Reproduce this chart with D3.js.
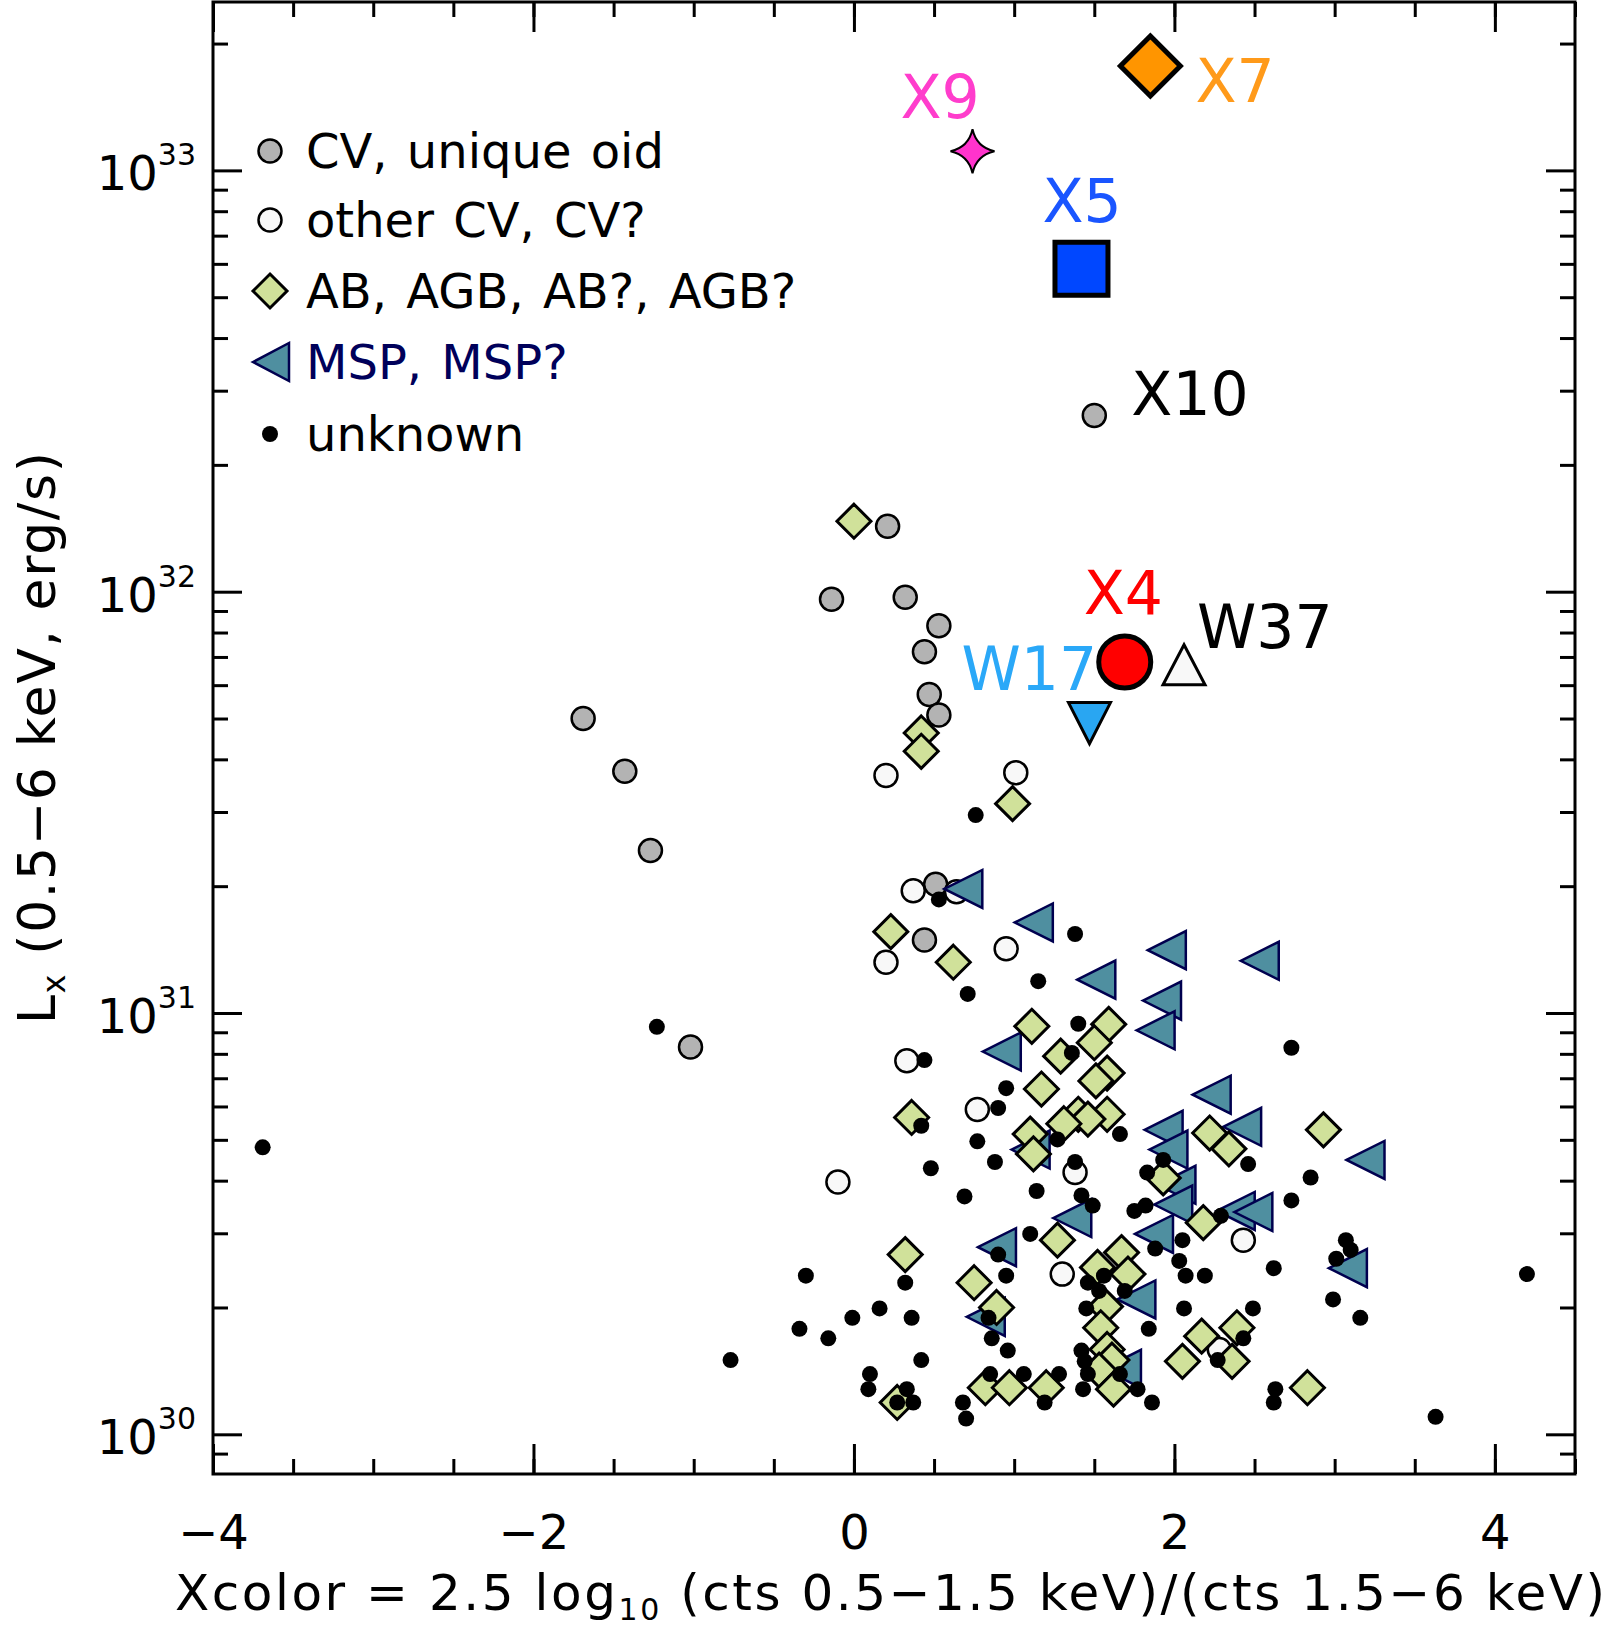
<!DOCTYPE html>
<html>
<head>
<meta http-equiv="Content-Type" content="text/html; charset=utf-8">
<script src="https://cdnjs.cloudflare.com/ajax/libs/d3/7.8.5/d3.min.js"></script>
<style>
  body { margin: 0; background: #fff; }
  svg text { font-family: "DejaVu Sans", sans-serif; }
</style>
</head>
<body>
<div id="chart"></div>
<script>

// ------------------------------------------- DATA  [Xcolor, Lx (erg/s)]

var cvUnique = [
  [0.21, 1.43e32], [-0.14, 9.6e31], [0.32, 9.7e31], [0.53, 8.3e31], [0.44, 7.2e31],
  [0.47, 5.7e31], [0.53, 5.1e31], [-1.69, 5.0e31], [-1.43, 3.75e31], [-1.27, 2.43e31],
  [0.51, 2.02e31], [0.44, 1.49e31], [-1.02, 8.3e30]
];

var cvOther = [
  [0.20, 3.66e31], [1.01, 3.72e31], [0.37, 1.95e31], [0.64, 1.94e31], [0.95, 1.42e31],
  [0.20, 1.32e31], [0.33, 7.7e30], [0.77, 5.9e30], [-0.10, 3.97e30], [1.38, 4.18e30],
  [2.43, 2.89e30], [1.30, 2.40e30], [2.28, 1.59e30]
];

var abAgb = [
  [0.00, 1.47e32], [0.42, 4.62e31], [0.42, 4.18e31], [0.99, 3.14e31], [0.23, 1.56e31],
  [0.62, 1.32e31], [1.11, 9.3e30], [1.59, 9.4e30], [1.50, 8.5e30], [1.29, 7.9e30],
  [1.58, 7.2e30], [1.51, 6.9e30], [1.17, 6.6e30], [0.36, 5.65e30], [1.40, 5.75e30],
  [1.58, 5.75e30], [1.46, 5.6e30], [1.31, 5.46e30], [1.10, 5.16e30], [1.12, 4.63e30],
  [2.22, 5.19e30], [2.34, 4.76e30], [2.93, 5.28e30], [1.93, 4.06e30], [1.27, 2.89e30],
  [2.18, 3.18e30], [0.32, 2.67e30], [1.52, 2.49e30], [1.67, 2.70e30], [1.71, 2.40e30],
  [0.75, 2.29e30], [0.89, 2.00e30], [1.57, 2.01e30], [1.54, 1.79e30], [2.17, 1.71e30],
  [2.39, 1.79e30], [1.58, 1.59e30], [1.61, 1.50e30], [2.05, 1.49e30], [2.36, 1.49e30],
  [1.53, 1.42e30], [1.62, 1.28e30], [0.82, 1.29e30], [0.97, 1.29e30], [1.20, 1.29e30],
  [0.27, 1.19e30], [2.83, 1.29e30]
];

var msp = [
  [0.72, 1.97e31], [1.16, 1.64e31], [1.99, 1.41e31], [2.57, 1.33e31], [1.55, 1.20e31],
  [1.96, 1.07e31], [1.92, 9.1e30], [0.96, 8.1e30], [2.27, 6.4e30], [1.97, 5.28e30],
  [2.46, 5.37e30], [2.00, 4.74e30], [1.14, 4.74e30], [3.23, 4.48e30], [2.05, 3.91e30],
  [2.03, 3.51e30], [2.42, 3.39e30], [2.53, 3.37e30], [1.40, 3.26e30], [1.91, 2.99e30],
  [0.93, 2.78e30], [3.12, 2.48e30], [1.80, 2.09e30], [0.86, 1.90e30], [1.71, 1.43e30]
];

var unknown = [
  [-3.69, 4.80e30], [-1.23, 9.27e30], [0.76, 2.95e31], [-0.77, 1.50e30], [2.73, 8.27e30],
  [3.63, 1.10e30], [4.20, 2.40e30], [2.85, 4.07e30], [2.73, 3.59e30], [3.07, 2.89e30],
  [3.10, 2.74e30], [3.01, 2.61e30], [2.99, 2.09e30], [3.16, 1.89e30], [2.62, 2.48e30],
  [2.63, 1.28e30], [2.62, 1.19e30], [0.53, 1.86e31], [1.38, 1.54e31], [1.15, 1.19e31],
  [0.71, 1.11e31], [1.40, 9.43e30], [1.36, 8.04e30], [0.44, 7.73e30], [0.95, 6.63e30],
  [0.90, 5.95e30], [0.42, 5.40e30], [0.77, 4.96e30], [1.66, 5.16e30], [1.27, 5.01e30],
  [2.46, 4.38e30], [0.88, 4.43e30], [0.48, 4.28e30], [1.38, 4.43e30], [1.93, 4.48e30],
  [1.83, 4.18e30], [0.69, 3.67e30], [1.14, 3.78e30], [1.42, 3.69e30], [1.49, 3.49e30],
  [1.75, 3.39e30], [1.82, 3.49e30], [2.29, 3.30e30], [1.10, 2.99e30], [2.05, 2.89e30],
  [1.88, 2.76e30], [0.90, 2.67e30], [2.03, 2.58e30], [-0.30, 2.38e30], [0.32, 2.29e30],
  [0.95, 2.38e30], [1.56, 2.38e30], [2.07, 2.38e30], [2.19, 2.38e30], [1.46, 2.29e30],
  [1.53, 2.19e30], [1.69, 2.19e30], [0.16, 1.99e30], [-0.01, 1.89e30], [0.36, 1.89e30],
  [-0.34, 1.78e30], [-0.16, 1.69e30], [0.84, 1.89e30], [1.45, 1.99e30], [2.06, 1.99e30],
  [2.49, 1.99e30], [1.84, 1.78e30], [0.86, 1.69e30], [0.96, 1.58e30], [1.42, 1.58e30],
  [1.44, 1.49e30], [2.43, 1.69e30], [2.27, 1.50e30], [0.42, 1.50e30], [1.46, 1.39e30],
  [1.66, 1.39e30], [0.85, 1.39e30], [1.06, 1.39e30], [1.28, 1.39e30], [0.10, 1.39e30],
  [0.09, 1.28e30], [0.33, 1.28e30], [1.43, 1.28e30], [1.77, 1.28e30], [0.27, 1.19e30],
  [0.37, 1.19e30], [0.68, 1.19e30], [1.19, 1.19e30], [1.86, 1.19e30], [0.70, 1.09e30]
];

// named sources
var namedNames = ["X7", "X9", "X5", "X10", "X4", "W37", "W17"];
var namedX     = [1.85, 0.74, 1.42, 1.50, 1.69, 2.06, 1.47];
var namedL     = [1.77e33, 1.11e33, 5.84e32, 2.62e32, 6.81e31, 6.71e31, 4.89e31];

// legend and axis texts
var legendLabels = ["CV, unique oid", "other CV, CV?", "AB, AGB, AB?, AGB?", "MSP, MSP?", "unknown"];
var xTickValues = [-4, -2, 0, 2, 4];
var yTickExps = [30, 31, 32, 33];

//-------------------------------------------- SVG definition

var width = 1611;
var height = 1630;
var plot = {left: 213, right: 1575, top: 2, bottom: 1474};

var svg = d3.select("#chart")
  .append("svg")
  .attr("width", width)
  .attr("height", height)
  .style("display", "block");

svg.append("rect").attr("width", width).attr("height", height).attr("fill", "#fff");

var x = d3.scaleLinear().domain([-4, 4.5]).range([plot.left, plot.right]);
var y = d3.scaleLog().domain([8.05e29, 2.51e33]).range([plot.bottom, plot.top]);

// ------------------------------------------- AXES (ticks inward on all sides)

var xMinor = d3.range(-4, 4.51, 0.5);
var yMajor = yTickExps.map(function(e){ return Math.pow(10, e); });
var yMinor = [];
for (var e = 29; e <= 33; e++) {
  for (var k = 2; k <= 9; k++) {
    var v = k * Math.pow(10, e);
    if (v > y.domain()[0] && v < y.domain()[1]) yMinor.push(v);
  }
}

function addAxis(axis, tx, ty) {
  var g = svg.append("g")
    .attr("transform", "translate(" + tx + "," + ty + ")")
    .call(axis);
  g.select(".domain").remove();
  g.selectAll(".tick line").attr("stroke", "#000").attr("stroke-width", 3);
  return g;
}

addAxis(d3.axisBottom(x).tickValues(xMinor).tickSize(-15).tickFormat(""), 0, plot.bottom);
addAxis(d3.axisTop(x).tickValues(xMinor).tickSize(-15).tickFormat(""), 0, plot.top);
addAxis(d3.axisTop(x).tickValues(xTickValues).tickSize(-30).tickFormat(""), 0, plot.top);
var xAxis = addAxis(d3.axisBottom(x).tickValues(xTickValues).tickSize(-30)
  .tickFormat(function(d){ return d < 0 ? "\u2212" + Math.abs(d) : d; }), 0, plot.bottom);
xAxis.selectAll(".tick text")
  .attr("y", 75).attr("dy", null)
  .attr("font-size", 48)
  .attr("font-family", "DejaVu Sans")
  .attr("fill", "#000");

addAxis(d3.axisLeft(y).tickValues(yMinor).tickSize(-15).tickFormat(""), plot.left, 0);
addAxis(d3.axisRight(y).tickValues(yMinor).tickSize(-15).tickFormat(""), plot.right, 0);
addAxis(d3.axisLeft(y).tickValues(yMajor).tickSize(-29).tickFormat(""), plot.left, 0);
addAxis(d3.axisRight(y).tickValues(yMajor).tickSize(-29).tickFormat(""), plot.right, 0);

var yLab = svg.append("g").selectAll("text")
  .data(yMajor)
  .enter()
  .append("text")
  .attr("x", 196)
  .attr("y", function(d){ return y(d) + 20; })
  .attr("text-anchor", "end")
  .attr("font-size", 48);
yLab.append("tspan").text("10");
yLab.append("tspan")
  .attr("dy", -25)
  .attr("font-size", 30)
  .text(function(d, i){ return yTickExps[i]; });

// frame
svg.append("rect")
  .attr("x", plot.left).attr("y", plot.top)
  .attr("width", plot.right - plot.left).attr("height", plot.bottom - plot.top)
  .attr("fill", "none").attr("stroke", "#000").attr("stroke-width", 3);

// axis titles
var xTitle = svg.append("text")
  .attr("x", 175).attr("y", 1610)
  .attr("font-size", 50)
  .attr("textLength", 1430)
  .attr("lengthAdjust", "spacing");
xTitle.append("tspan").text("Xcolor = 2.5 log");
xTitle.append("tspan").attr("font-size", 30).attr("dy", 10).text("10");
xTitle.append("tspan").attr("dy", -10).text(" (cts 0.5\u22121.5 keV)/(cts 1.5\u22126 keV)");

var yTitle = svg.append("text")
  .attr("transform", "translate(55,738) rotate(-90)")
  .attr("text-anchor", "middle")
  .attr("font-size", 52)
  .attr("textLength", 572)
  .attr("lengthAdjust", "spacing");
yTitle.append("tspan").text("L");
yTitle.append("tspan").attr("font-size", 32).attr("dy", 10).text("x");
yTitle.append("tspan").attr("dy", -10).text(" (0.5\u22126 keV, erg/s)");

// ------------------------------------------- MARKERS

var diamondPath = "M0,-17L17,0L0,17L-17,0Z";
var trianglePath = "M-25,0L13,-19L13,19Z";

var dataviz = svg.append("g");

dataviz.selectAll("circle.cvu")
  .data(cvUnique).enter().append("circle")
  .attr("cx", function(d){ return x(d[0]); })
  .attr("cy", function(d){ return y(d[1]); })
  .attr("r", 11.5)
  .attr("fill", "#b3b3b3").attr("stroke", "#000").attr("stroke-width", 2.5);

dataviz.selectAll("circle.cvo")
  .data(cvOther).enter().append("circle")
  .attr("cx", function(d){ return x(d[0]); })
  .attr("cy", function(d){ return y(d[1]); })
  .attr("r", 11.5)
  .attr("fill", "#f8f8f8").attr("stroke", "#000").attr("stroke-width", 2.5);

dataviz.selectAll("path.msp")
  .data(msp).enter().append("path")
  .attr("d", trianglePath)
  .attr("transform", function(d){ return "translate(" + x(d[0]) + "," + y(d[1]) + ")"; })
  .attr("fill", "#4f8fa0").attr("stroke", "#00004f").attr("stroke-width", 2.5);

dataviz.selectAll("path.ab")
  .data(abAgb).enter().append("path")
  .attr("d", diamondPath)
  .attr("transform", function(d){ return "translate(" + x(d[0]) + "," + y(d[1]) + ")"; })
  .attr("fill", "#d0e19a").attr("stroke", "#000").attr("stroke-width", 3);

dataviz.selectAll("circle.unk")
  .data(unknown).enter().append("circle")
  .attr("cx", function(d){ return x(d[0]); })
  .attr("cy", function(d){ return y(d[1]); })
  .attr("r", 8)
  .attr("fill", "#000");

// named sources: marker shape, colours and label offsets
var namedStyle = {
  X7:  {d: "M0,-30L30,0L0,30L-30,0Z", fill: "#ff9500", sw: 5, col: "#ff9a1a", dx: 45, dy: 36},
  X9:  {d: "M0,-22Q4,-4 22,0Q4,4 0,22Q-4,4 -22,0Q-4,-4 0,-22Z", fill: "#ff33cc", sw: 2, col: "#ff3dcc", dx: -72, dy: -33},
  X5:  {d: "M-26.5,-26.5H26.5V26.5H-26.5Z", fill: "#0047ff", sw: 5, col: "#1a55ff", dx: -39, dy: -47},
  X10: {d: d3.symbol().type(d3.symbolCircle).size(Math.PI * 11.5 * 11.5)(), fill: "#b3b3b3", sw: 2.5, col: "#000", dx: 37, dy: 0},
  X4:  {d: d3.symbol().type(d3.symbolCircle).size(Math.PI * 26 * 26)(), fill: "#ff0000", sw: 5, col: "#ff0000", dx: -41, dy: -48},
  W37: {d: "M0,-20L21,20L-21,20Z", fill: "#f8f8f8", sw: 3, col: "#000", dx: 13, dy: -17},
  W17: {d: "M-21,-20L21,-20L0,21Z", fill: "#29a6f2", sw: 3, col: "#2aa8f8", dx: -128, dy: -33}
};

var named = svg.append("g").selectAll("g")
  .data(namedNames).enter().append("g")
  .attr("transform", function(d, i){ return "translate(" + x(namedX[i]) + "," + y(namedL[i]) + ")"; });

named.append("path")
  .attr("d", function(d){ return namedStyle[d].d; })
  .attr("fill", function(d){ return namedStyle[d].fill; })
  .attr("stroke", "#000")
  .attr("stroke-width", function(d){ return namedStyle[d].sw; });

named.append("text")
  .attr("x", function(d){ return namedStyle[d].dx; })
  .attr("y", function(d){ return namedStyle[d].dy; })
  .attr("font-size", 60)
  .attr("fill", function(d){ return namedStyle[d].col; })
  .text(function(d){ return d; });

// ------------------------------------------- LEGEND

var legendRows = [151, 220, 291, 362, 434];
var legendSym = [
  function(g){ g.append("circle").attr("r", 11.5).attr("fill", "#b3b3b3").attr("stroke", "#000").attr("stroke-width", 2.5); },
  function(g){ g.append("circle").attr("r", 11.5).attr("fill", "#f8f8f8").attr("stroke", "#000").attr("stroke-width", 2.5); },
  function(g){ g.append("path").attr("d", diamondPath).attr("fill", "#d0e19a").attr("stroke", "#000").attr("stroke-width", 3); },
  function(g){ g.append("path").attr("d", "M-17,0L19,-19L19,19Z").attr("fill", "#4f8fa0").attr("stroke", "#00004f").attr("stroke-width", 2.5); },
  function(g){ g.append("circle").attr("r", 8).attr("fill", "#000"); }
];
var legendCol = ["#000", "#000", "#000", "#00005a", "#000"];

var legend = svg.append("g").selectAll("g")
  .data(legendLabels).enter().append("g")
  .attr("transform", function(d, i){ return "translate(0," + legendRows[i] + ")"; });

legend.each(function(d, i){
  var s = d3.select(this).append("g").attr("transform", "translate(270,0)");
  legendSym[i](s);
});

legend.append("text")
  .attr("x", 306)
  .attr("y", 17)
  .attr("font-size", 48)
  .attr("word-spacing", 4)
  .attr("fill", function(d, i){ return legendCol[i]; })
  .text(function(d){ return d; });

</script>
</body>
</html>
